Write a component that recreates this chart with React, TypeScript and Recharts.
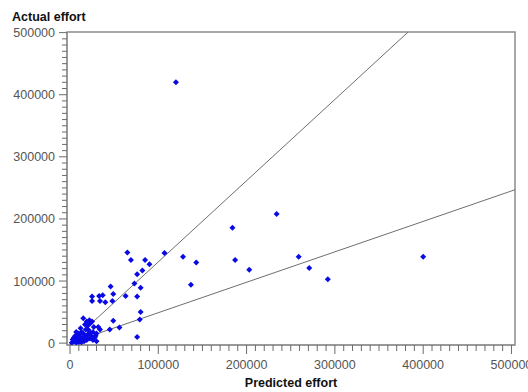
import { ReferenceArea, ReferenceLine, Scatter, ScatterChart, XAxis, YAxis } from 'recharts'

const predictedEffort = [
  120000,
  65000, 69000, 85000, 90000, 82000, 76000, 73000, 80000,
  107000, 128000, 143000, 137000, 184000, 187000, 203000, 234000, 259000, 271000, 292000, 400000,
  46000, 49000, 63000, 76000, 25000, 25000, 33000, 37000, 34000, 40000, 48000,
  80000, 79000, 49000, 45000, 56000, 76000,
  15000, 22000, 23000, 17000, 27000, 7000, 10000, 4500, 15000, 21000, 30000, 34000, 22500, 26000, 2000, 11000,
  5000, 6000, 8000, 9000, 10000, 12000, 13000, 14000, 16000, 17000, 18000, 19000, 20000, 24000, 26000, 28000,
  30000, 32000, 20000, 12000, 3000, 7000, 9000, 13000, 18000, 23000, 19000, 25000, 29000, 6000,
]
const actualEffort = [
  420000,
  146000, 134000, 134000, 127000, 117000, 111000, 96000, 89000,
  145000, 139000, 130000, 94000, 186000, 134000, 118000, 208000, 139000, 121000, 103000, 139000,
  91000, 79000, 76000, 75000, 75000, 68000, 76000, 77000, 68000, 66000, 68000,
  50000, 38000, 36000, 22000, 25000, 10000,
  40000, 37000, 32000, 30000, 26000, 18000, 14500, 9000, 15500, 21000, 15500, 22000, 7500, 5000, 500, 5000,
  3000, 12000, 6000, 16000, 2000, 10000, 18000, 7000, 3000, 12000, 22000, 5000, 14000, 11000, 18000, 9000,
  3000, 26000, 28000, 24000, 6000, 1000, 10000, 1500, 9000, 16000, 35000, 35000, 12000, 4000,
]

const upperLine = [{ x: 0, y: 0 }, { x: 383000, y: 501000 }]
const lowerLine = [{ x: 0, y: 0 }, { x: 504000, y: 247000 }]

const xDomain = [-3400, 504000]
const yDomain = [-3000, 501000]
const tickStep = 10000
const labelStep = 100000

const points = predictedEffort.map((x, i) => ({ x, y: actualEffort[i] }))
const xTicks = Array.from({ length: 51 }, (_, i) => i * tickStep)
const yTicks = xTicks

const font = '"Liberation Sans", Arial, sans-serif'

function XTick(props: any) {
  const { x, y, payload } = props
  const major = payload.value % labelStep === 0
  return (
    <g>
      <line x1={x} x2={x} y1={y} y2={y + (major ? 9 : 6)} stroke="#6b6b6b" />
      {major && (
        <text x={x} y={y + 24} textAnchor="middle" fill="#555" fontSize={12.5} fontFamily={font}>
          {payload.value}
        </text>
      )}
    </g>
  )
}

function YTick(props: any) {
  const { x, y, payload } = props
  const major = payload.value % labelStep === 0
  return (
    <g>
      <line x1={x} x2={x - (major ? 8 : 5)} y1={y} y2={y} stroke="#6b6b6b" />
      {major && (
        <text x={x - 12} y={y + 4.5} textAnchor="end" fill="#555" fontSize={12.5} fontFamily={font}>
          {payload.value}
        </text>
      )}
    </g>
  )
}

function Diamond(props: any) {
  const { cx, cy } = props
  return <path d={`M${cx},${cy - 3}L${cx + 3},${cy}L${cx},${cy + 3}L${cx - 3},${cy}Z`} fill="#0a0ae6" />
}

export default function App() {
  return (
    <div style={{ position: 'absolute', left: 0, top: 0, width: 528, height: 392, background: '#fff' }}>
      <ScatterChart width={528} height={392} margin={{ top: 32, right: 13, bottom: 17, left: 7 }}>
        <XAxis
          type="number"
          dataKey="x"
          domain={xDomain}
          ticks={xTicks}
          interval={0}
          allowDataOverflow
          height={30}
          tickSize={0}
          tickMargin={0}
          tick={<XTick />}
          axisLine={{ stroke: '#8c8c8c' }}
        />
        <YAxis
          type="number"
          dataKey="y"
          domain={yDomain}
          ticks={yTicks}
          interval={0}
          allowDataOverflow
          width={60}
          tickSize={0}
          tickMargin={0}
          tick={<YTick />}
          axisLine={{ stroke: '#8c8c8c' }}
        />
        <ReferenceArea
          x1={xDomain[0]}
          x2={xDomain[1]}
          y1={yDomain[0]}
          y2={yDomain[1]}
          fill="none"
          stroke="#8c8c8c"
          strokeWidth={1.5}
        />
        <ReferenceLine segment={upperLine} stroke="#6e6e6e" strokeWidth={1} />
        <ReferenceLine segment={lowerLine} stroke="#6e6e6e" strokeWidth={1} />
        <Scatter data={points} shape={<Diamond />} isAnimationActive={false} />
      </ScatterChart>
      <div
        style={{
          position: 'absolute', left: 12, top: 10, fontFamily: font, fontWeight: 'bold',
          fontSize: 12.5, color: '#111', whiteSpace: 'nowrap',
        }}
      >
        Actual effort
      </div>
      <div
        style={{
          position: 'absolute', left: 191, width: 200, top: 376, textAlign: 'center', fontFamily: font,
          fontWeight: 'bold', fontSize: 12.5, color: '#111', whiteSpace: 'nowrap',
        }}
      >
        Predicted effort
      </div>
    </div>
  )
}
